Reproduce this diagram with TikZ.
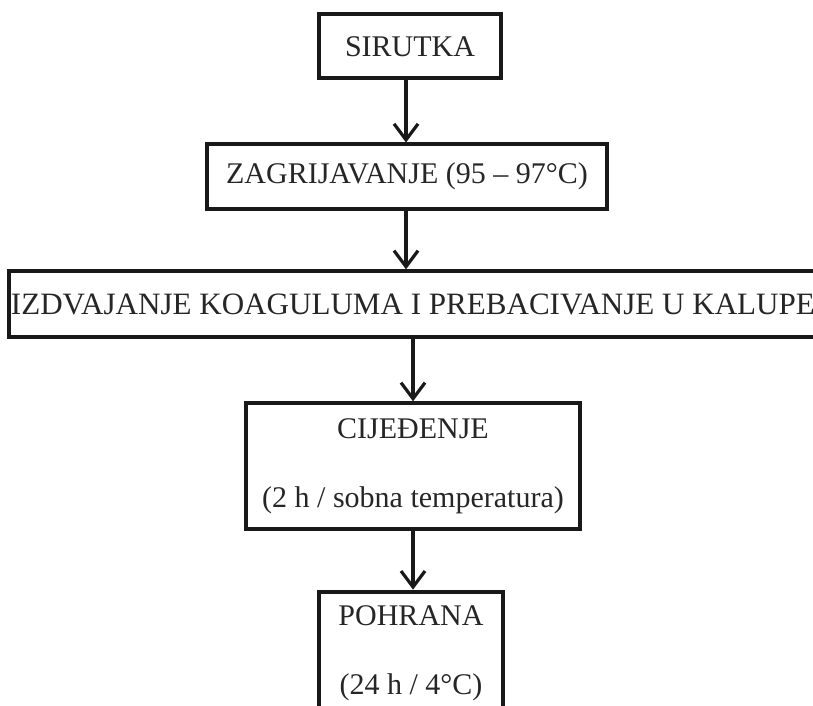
\documentclass[tikz,border=0pt]{standalone}
\usepackage{fontspec}
\setmainfont{Liberation Serif}
\usetikzlibrary{arrows.meta}

\begin{document}
\begin{tikzpicture}[x=0.75pt, y=-0.75pt,
		kutija/.style={draw=black!90, line width=3pt, inner sep=0pt, align=center, text=black!85, font=\fontsize{22.5}{27}\selectfont},
		strelica/.style={-{Straight Barb[length=12pt, width=18pt, line width=2.4pt]}, line width=2.4pt, black!90}]
		
		%Okvir slike
		\useasboundingbox (0,0) rectangle (813,706);
		\clip (0,0) rectangle (813,706);
		
		%Kutije
		\node [kutija, minimum width=137pt, minimum height=48pt] (sirutka) at (410,46.5) {SIRUTKA};
		\node [kutija, minimum width=300pt, minimum height=48pt] (zagrijavanje) at (407,176.5) {ZAGRIJAVANJE (95 -- 97°C)};
		\node [kutija, minimum width=606pt, minimum height=49pt, font=\fontsize{23.3}{27}\selectfont] (izdvajanje) at (413,304) {IZDVAJANJE KOAGULUMA I PREBACIVANJE U KALUPE};
		\node [kutija, minimum width=250pt, minimum height=94pt] (cijedjenje) at (413,466) {CIJEĐENJE\\[25pt](2 h / sobna temperatura)};
		\node [kutija, minimum width=138pt, minimum height=92pt] (pohrana) at (411,653) {POHRANA\\[25pt](24 h / 4°C)};
		
		%Strelice
		\draw [strelica] (sirutka.south -| 406,0) -- (zagrijavanje.north -| 406,0);
		\draw [strelica] (zagrijavanje.south -| 406,0) -- (izdvajanje.north -| 406,0);
		\draw [strelica] (izdvajanje.south -| cijedjenje.north) -- (cijedjenje.north);
		\draw [strelica] (cijedjenje.south) -- (cijedjenje.south |- pohrana.north);
		
\end{tikzpicture}
\end{document}
